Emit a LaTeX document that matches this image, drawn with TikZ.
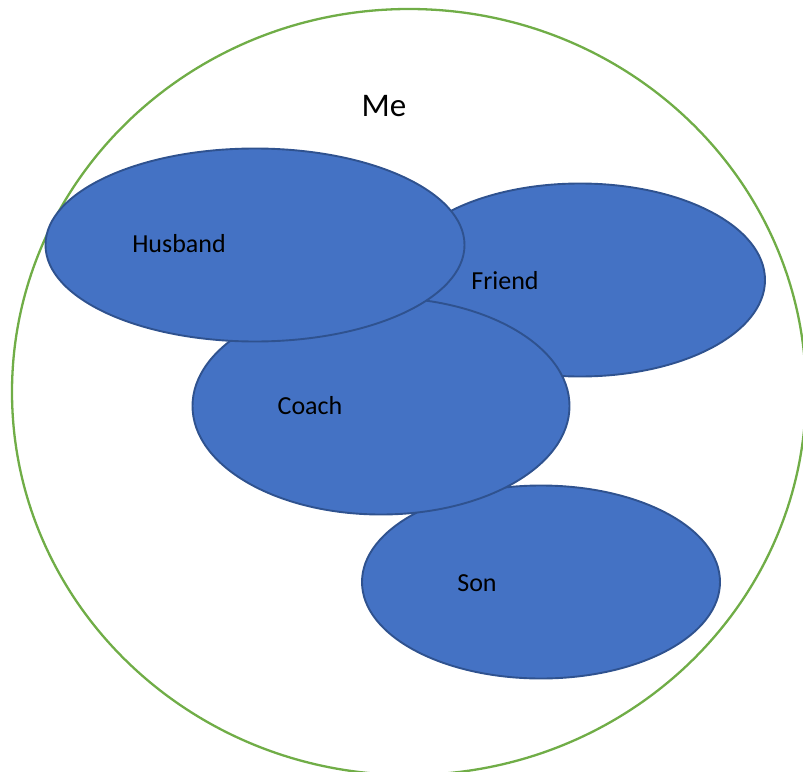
\documentclass[tikz,border=0pt]{standalone}
\usepackage{fontspec}
\setmainfont{Carlito}
\usepackage{xcolor}
\definecolor{rolefill}{RGB}{68,114,196}
\definecolor{roleline}{RGB}{47,82,143}
\definecolor{selfgreen}{RGB}{112,173,71}
\usetikzlibrary{shapes.geometric}

\begin{document}
\begin{tikzpicture}[
  x=1pt, y=-1pt,
  role/.style={ellipse, draw=roleline, fill=rolefill, line width=1.9pt, inner sep=0pt},
  rolelabel/.style={font=\fontsize{26}{30}\selectfont, text=black}
]
\useasboundingbox (0,0) rectangle (803,771);

% --- outer circle: the self ---
\node[ellipse, draw=selfgreen, line width=2.3pt, inner sep=0pt,
      minimum width=794pt, minimum height=766pt] (self) at (409,392) {};
\node[font=\fontsize{33}{38}\selectfont] (me) at (384,106) {Me};

% --- roles, back to front ---
\node[role, minimum width=358pt, minimum height=193pt] (son) at (541,582) {};
\node[role, minimum width=370pt, minimum height=193pt] (friend) at (580,280) {};
\node[role, minimum width=377pt, minimum height=217pt] (coach) at (381,406) {};
\node[role, minimum width=419pt, minimum height=193pt] (husband) at (255,245) {};

% labels
\node[rolelabel] (husbandlbl) at (179,244) {Husband};
\node[rolelabel] (friendlbl) at (505,281) {Friend};
\node[rolelabel] (coachlbl) at (310,406) {Coach};
\node[rolelabel] (sonlbl) at (477,583) {Son};

\end{tikzpicture}
\end{document}
